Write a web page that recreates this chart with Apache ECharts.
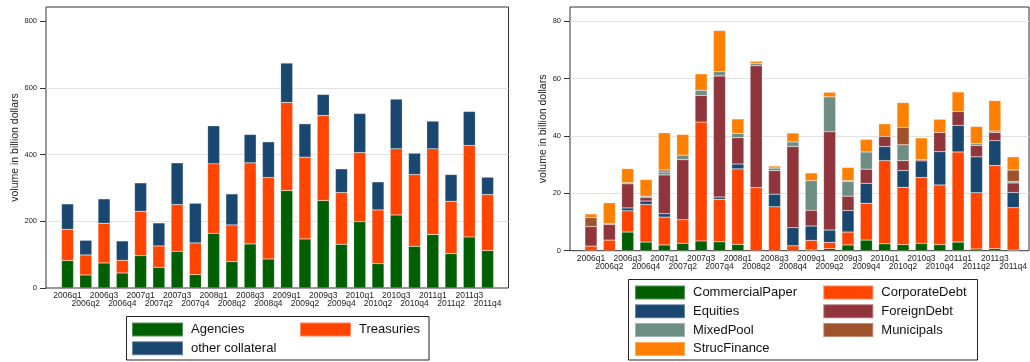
<!DOCTYPE html>
<html><head><meta charset="utf-8">
<script src="https://cdn.jsdelivr.net/npm/echarts@6/dist/echarts.min.js"></script>
<style>html,body{margin:0;padding:0;background:#fff}#c{width:1030px;height:362px}</style>
</head><body><div id="c"></div>
<script>
// ---------- data ----------
const quarters = ['2006q1','2006q2','2006q3','2006q4','2007q1','2007q2','2007q3','2007q4',
  '2008q1','2008q2','2008q3','2008q4','2009q1','2009q2','2009q3','2009q4',
  '2010q1','2010q2','2010q3','2010q4','2011q1','2011q2','2011q3','2011q4'];

// left panel (billion dollars)
const agencies        = [82,39,75,45,97,62,110,40,164,79,132,87,292,147,262,131,199,73,219,125,160,103,153,112];
const treasuries      = [94,60,119,38,133,64,140,95,208,110,243,244,264,245,255,155,207,161,198,215,257,157,274,168];
const otherCollateral = [76,44,73,58,85,69,125,119,114,93,85,107,118,100,63,71,117,84,149,64,83,80,102,52];

// right panel (billion dollars)
const commercialPaper = [0,0,6.5,3.0,2.0,2.6,3.4,3.1,2.2,0,0,0,0.2,0.7,2.0,3.7,2.4,2.1,2.6,2.1,3.0,0.6,0.7,0.2];
const corporateDebt   = [1.6,3.7,7.4,13.1,9.7,8.2,41.4,14.8,26.3,22.0,15.3,1.7,3.4,2.2,4.5,12.8,29.0,20.0,22.9,20.8,31.4,19.6,29.0,14.8];
const equities        = [0,0,1.0,1.2,1.2,0,0,0.8,1.7,0,4.4,6.3,5.0,4.3,7.5,7.0,4.9,5.8,5.8,11.6,9.3,12.5,8.6,5.3];
const foreignDebt     = [6.8,5.4,8.4,1.3,13.5,20.9,9.3,42.2,9.2,42.4,8.2,28.3,5.5,34.2,5.0,4.9,3.5,3.5,0.4,6.7,4.8,4.0,2.9,3.3];
const mixedPool       = [0,0,0.4,0.4,1.0,1.6,1.8,1.5,1.5,0.8,0.9,1.6,10.3,12.2,5.1,6.0,0,5.5,0,0,0,0.6,0.5,0.5];
const municipals      = [3.1,0.4,0,0,0.7,0,0,0,0,0,0,0,0,0,0.3,0,0,6.1,0,0,0,0,0,4.0];
const strucFinance    = [1.3,7.2,4.9,5.8,13.0,7.2,5.7,14.3,5.0,0.8,0.7,3.1,2.7,1.6,4.6,4.4,4.4,8.6,7.6,4.6,6.8,6.0,10.6,4.6];

const leftTicks  = [0,200,400,600,800];
const rightTicks = [0,20,40,60,80];
const yTitle = 'volume in billion dollars';

// ---------- chart ----------
const FONT = '"Liberation Sans", Arial, Helvetica, sans-serif';
const C = {
  green:'#005f00', orangered:'#ff4500', navy:'#1a476f', maroon:'#90353b',
  teal:'#6e8e84', sienna:'#a0522d', orange:'#ff7f00'
};
const G = '#e2e2e2', T = 'rgba(0,0,0,0)';
const nz = a => a.map(v => (v === 0 ? null : v));

function frameY(max, ticks, gap, gridColors) {
  return {
    type:'value', min:0, max:max,
    axisLine:{show:false},
    axisTick:{show:true, length:6, lineStyle:{color:'#333', width:1}, customValues:ticks},
    axisLabel:{fontSize:7.5, color:'#222', margin:9, fontFamily:FONT, customValues:ticks},
    splitLine:{show:true, lineStyle:{color:gridColors, width:1}},
    name:yTitle, nameLocation:'middle', nameGap:gap,
    nameTextStyle:{fontSize:10.5, color:'#222', fontFamily:FONT}
  };
}
function dataX(gridIndex, lh) {
  return {
    type:'category', gridIndex:gridIndex, data:quarters,
    axisLine:{show:false}, axisTick:{show:false},
    axisLabel:{interval:0, fontSize:8.5, color:'#222', fontFamily:FONT, margin:4, lineHeight:lh,
      formatter:(v,i)=> (i % 2 ? '\n' + v : v)}
  };
}
const barBase = {type:'bar', barWidth:'66%', itemStyle:{borderColor:'rgba(255,255,255,0.35)', borderWidth:0.5}};
function bar(name, data, color, xi, stack) {
  return Object.assign({}, barBase, {name:name, data:nz(data), stack:stack, xAxisIndex:xi, yAxisIndex:xi,
    itemStyle:Object.assign({}, barBase.itemStyle, {color:color})});
}
const legendBase = {orient:'vertical', padding:0, icon:'rect', selectedMode:false, height:120,
  itemHeight:14, textStyle:{fontSize:13, color:'#111', fontFamily:FONT, padding:[0,0,0,3], lineHeight:14}};

const option = {
  animation:false,
  textStyle:{fontFamily:FONT},
  grid:[
    {left:46, top:7, width:462.5, height:281, show:true, borderColor:'#333', borderWidth:1, backgroundColor:'transparent'},
    {left:58.4, top:7, width:438.3, height:281},
    {left:570, top:7, width:459, height:243.7, show:true, borderColor:'#333', borderWidth:1, backgroundColor:'transparent'},
    {left:581.8, top:7, width:443, height:243.7}
  ],
  xAxis:[
    {type:'category', gridIndex:0, data:quarters, show:false},
    dataX(1, 7.7),
    {type:'category', gridIndex:2, data:quarters, show:false},
    dataX(3, 8.3)
  ],
  yAxis:[
    Object.assign({gridIndex:0}, frameY(842, leftTicks, 25, [T,G,G,G,T])),
    {type:'value', gridIndex:1, min:0, max:842, show:false, splitLine:{show:false}},
    Object.assign({gridIndex:2}, frameY(84.9, rightTicks, 21.5, [T,G,G,G,G])),
    {type:'value', gridIndex:3, min:0, max:84.9, show:false, splitLine:{show:false}}
  ],
  legend:[
    Object.assign({}, legendBase, {data:['Agencies','other collateral'], left:131, top:321.5, itemWidth:51, itemGap:2.7}),
    Object.assign({}, legendBase, {data:['Treasuries'], left:299, top:321.5, itemWidth:51, itemGap:2.7}),
    Object.assign({}, legendBase, {data:['CommercialPaper','Equities','MixedPool','StrucFinance'], left:634, top:284.5, itemWidth:50, itemGap:2.8}),
    Object.assign({}, legendBase, {data:['CorporateDebt','ForeignDebt','Municipals'], left:822.3, top:284.5, itemWidth:50, itemGap:2.8})
  ],
  graphic:[
    {type:'rect', shape:{x:126.5, y:316.5, width:302.5, height:43.5}, style:{fill:'none', stroke:'#222', lineWidth:1}},
    {type:'rect', shape:{x:628.5, y:279.5, width:349, height:80.5}, style:{fill:'none', stroke:'#222', lineWidth:1}}
  ],
  series:[
    bar('Agencies', agencies, C.green, 1, 'L'),
    bar('Treasuries', treasuries, C.orangered, 1, 'L'),
    bar('other collateral', otherCollateral, C.navy, 1, 'L'),
    bar('CommercialPaper', commercialPaper, C.green, 3, 'R'),
    bar('CorporateDebt', corporateDebt, C.orangered, 3, 'R'),
    bar('Equities', equities, C.navy, 3, 'R'),
    bar('ForeignDebt', foreignDebt, C.maroon, 3, 'R'),
    bar('MixedPool', mixedPool, C.teal, 3, 'R'),
    bar('Municipals', municipals, C.sienna, 3, 'R'),
    bar('StrucFinance', strucFinance, C.orange, 3, 'R')
  ]
};
echarts.init(document.getElementById('c'), null, {renderer:'canvas'}).setOption(option);
</script>
</body></html>
